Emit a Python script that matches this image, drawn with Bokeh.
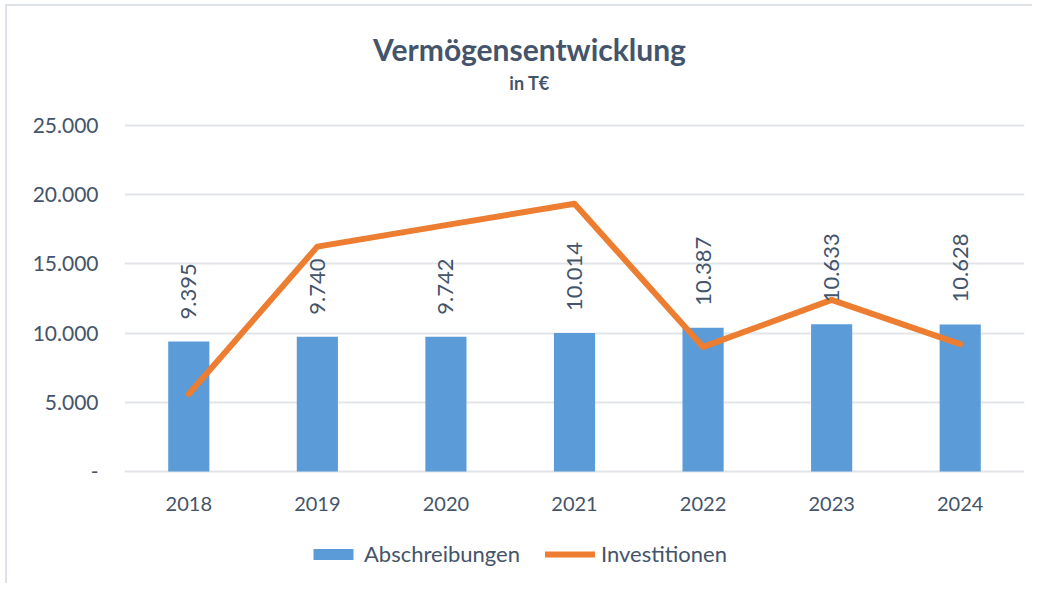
import math
from bokeh.plotting import figure
from bokeh.models import (ColumnDataSource, FactorRange, FixedTicker, Legend, LegendItem)
from bokeh.core.properties import value
from bokeh.embed import file_html
from bokeh.resources import INLINE

# ---- data ----
years = ["2018", "2019", "2020", "2021", "2022", "2023", "2024"]
abschreibungen = [9395, 9740, 9742, 10014, 10387, 10633, 10628]
investitionen = [5600, 16250, 17800, 19350, 9000, 12400, 9200]
y_ticks = [0, 5000, 10000, 15000, 20000, 25000]
y_tick_labels = ["-", "5.000", "10.000", "15.000", "20.000", "25.000"]
title_text = "Vermögensentwicklung"
subtitle_text = "in T€"

def de_fmt(v):
    return f"{v:,}".replace(",", ".")

FONT = "Lato"
TXT = "#44546A"
GRID = "#E1E5EA"

# layout (pixels): value axis 0..25000 spans 346 px; frame also holds title and legend
AXIS_PX = 346
ABOVE_PX = 119   # space above the 25.000 line for title
BELOW_PX = 112   # space below the 0 line for year labels and legend
y_top = y_ticks[-1]
per_px = y_top / AXIS_PX
y_range = (-BELOW_PX * per_px, y_top + ABOVE_PX * per_px)

src = ColumnDataSource(dict(
    year=years,
    ab=abschreibungen,
    inv=investitionen,
    lbl=[de_fmt(v) for v in abschreibungen],
    zero=[0] * len(years),
))

p = figure(
    x_range=FactorRange(*years),
    y_range=y_range,
    frame_width=900, frame_height=AXIS_PX + ABOVE_PX + BELOW_PX,
    output_backend="svg", toolbar_location=None,
    min_border_left=117, min_border_right=8,
    min_border_top=0, min_border_bottom=0,
    title=None,
)
p.styles = {"margin-left": "5px", "margin-top": "4px",
            "border-left": "2px solid #DDE2E8", "border-top": "2px solid #DDE2E8"}
p.outline_line_color = None
p.background_fill_color = "white"
p.border_fill_color = "white"

bars = p.vbar(x="year", top="ab", width=0.32, source=src,
              fill_color="#5B9BD8", line_color=None)
line = p.line(x="year", y="inv", source=src, line_color="#ED7D31",
              line_width=6, line_cap="round", line_join="round")

# data labels
p.text(x="year", y="ab", text="lbl", source=src, angle=math.pi / 2,
       text_align="left", text_baseline="middle", y_offset=-22,
       text_font=value(FONT), text_font_size="22px", text_color=TXT)

# category labels under the zero line
p.text(x="year", y="zero", text="year", source=src,
       text_align="center", text_baseline="middle", y_offset=32,
       text_font=value(FONT), text_font_size="20px", text_color=TXT)

# title and subtitle
mid_year = years[len(years) // 2]
title_src = ColumnDataSource(dict(x=[mid_year], y=[y_top], t=[title_text]))
sub_src = ColumnDataSource(dict(x=[mid_year], y=[y_top], t=[subtitle_text]))
p.text(x="x", y="y", text="t", source=title_src, text_align="center",
       text_baseline="middle", x_offset=-45, y_offset=-77,
       text_font=value(FONT), text_font_size="30px", text_font_style="bold",
       text_color=TXT)
p.text(x="x", y="y", text="t", source=sub_src, text_align="center",
       text_baseline="middle", x_offset=-45, y_offset=-43,
       text_font=value(FONT), text_font_size="18px", text_font_style="bold",
       text_color=TXT)

# axes
p.xaxis.visible = False
p.yaxis.ticker = FixedTicker(ticks=y_ticks)
p.yaxis.major_label_overrides = {t: l for t, l in zip(y_ticks, y_tick_labels)}
p.yaxis.axis_line_color = None
p.yaxis.major_tick_line_color = None
p.yaxis.minor_tick_line_color = None
p.yaxis.major_label_standoff = 20
p.yaxis.major_label_text_font = FONT
p.yaxis.major_label_text_font_size = "21px"
p.yaxis.major_label_text_color = TXT

p.xgrid.grid_line_color = None
p.ygrid.grid_line_color = GRID
p.ygrid.grid_line_width = 2

legend = Legend(items=[
    LegendItem(label="Abschreibungen", renderers=[bars]),
    LegendItem(label="Investitionen", renderers=[line]),
], orientation="horizontal", location=(184, 16),
    label_text_font=FONT, label_text_font_size="22px", label_text_color=TXT,
    glyph_width=50, glyph_height=14, label_standoff=6, spacing=25,
    border_line_color=None, background_fill_alpha=0, padding=0, margin=0)
p.add_layout(legend)

open("out.html", "w").write(file_html(p, INLINE))
